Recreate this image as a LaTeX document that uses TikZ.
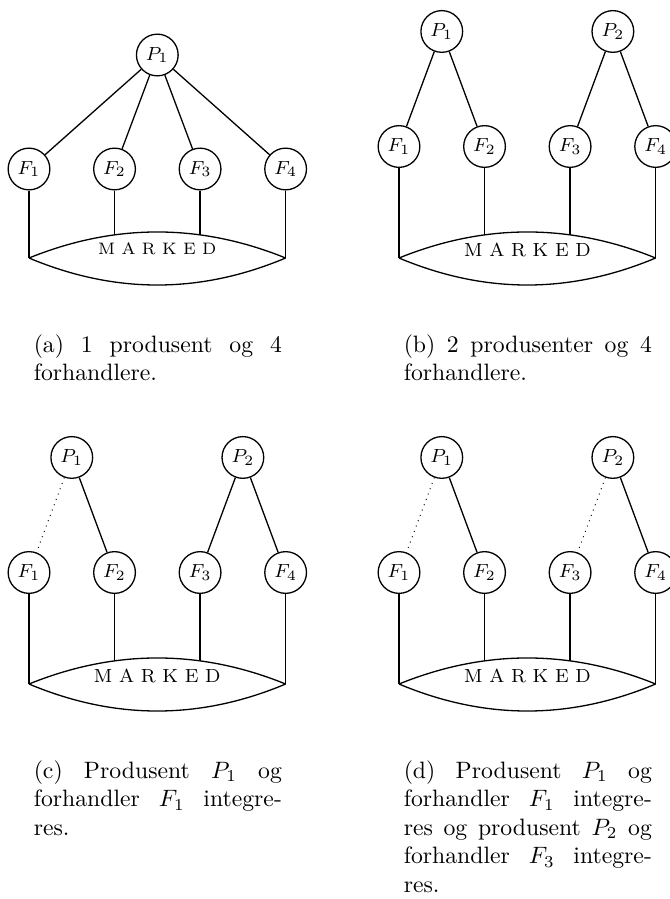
\documentclass[tikz,border=0pt]{standalone}
\usepackage{tikz}
\usetikzlibrary{positioning}
\newdimen\firmDist
\newdimen\prodDist

\begin{document}
\begin{tikzpicture}[x=0.422pt,y=-0.422pt]
\firmDist=36.1pt
\prodDist=51.8pt

\tikzstyle{agent} = [circle, draw=black, line width=0.55pt, minimum size=17.6pt, inner sep=0pt, font=\footnotesize]
\tikzstyle{link} = [line width=0.55pt]
\tikzstyle{weak} = [dotted, line width=0.4pt]
\tikzstyle{market} = [inner sep=0pt, font=\footnotesize]
\tikzstyle{capt} = [anchor=north west, inner sep=0pt, text width=104.7pt, align=justify, font=\normalsize]

\useasboundingbox (0,0) rectangle (670,899);

% (a) 1 produsent
    \node [agent] (Pa1) at (157.3,55) {$P_1$};
    \node [agent] (Fa1) at (29,169) {$F_1$};
    \path (Fa1) ++(\firmDist,0) node [agent] (Fa2) {$F_2$};
    \path (Fa2) ++(\firmDist,0) node [agent] (Fa3) {$F_3$};
    \path (Fa3) ++(\firmDist,0) node [agent] (Fa4) {$F_4$};
    \coordinate (La) at (Fa1 |- 0,258);
    \coordinate (Ra) at (Fa4 |- 0,258);
    \draw [link] (La) .. controls +(85.7,-34.7) and +(-85.7,-34.7) .. (Ra) coordinate [pos=1/3] (Ta2) coordinate [pos=2/3] (Ta3);
    \draw [link] (La) .. controls +(85.7,36) and +(-85.7,36) .. (Ra);
    \node [market, font=\scriptsize] (Ka) at (157.3,249) {M A R K E D};

    \draw [link] (Pa1) -- (Fa1);
    \draw [link] (Pa1) -- (Fa2);
    \draw [link] (Pa1) -- (Fa3);
    \draw [link] (Pa1) -- (Fa4);
    \draw [link] (Fa1) -- (La);
    \draw [link] (Fa2) -- (Fa2 |- Ta2);
    \draw [link] (Fa3) -- (Fa3 |- Ta3);
    \draw [link] (Fa4) -- (Ra);

    \node [capt] (Ca) at (33.3,334) {(a) 1 produsent og 4\linebreak forhandlere.};

% (b) 2 produsenter
    \node [agent] (Fb1) at (399,146.5) {$F_1$};
    \path (Fb1) ++(\firmDist,0) node [agent] (Fb2) {$F_2$};
    \path (Fb2) ++(\firmDist,0) node [agent] (Fb3) {$F_3$};
    \path (Fb3) ++(\firmDist,0) node [agent] (Fb4) {$F_4$};
    \path (Fb1) ++(69.6:\prodDist) node [agent] (Pb1) {$P_1$};
    \path (Fb3) ++(69.6:\prodDist) node [agent] (Pb2) {$P_2$};
    \coordinate (Lb) at (Fb1 |- 0,258);
    \coordinate (Rb) at (Fb4 |- 0,258);
    \draw [link] (Lb) .. controls +(85.7,-34.7) and +(-85.7,-34.7) .. (Rb) coordinate [pos=1/3] (Tb2) coordinate [pos=2/3] (Tb3);
    \draw [link] (Lb) .. controls +(85.7,36) and +(-85.7,36) .. (Rb);
    \node [market] (Kb) at (527.5,249.5) {M A R K E D};

    \draw [link] (Pb1) -- (Fb1);
    \draw [link] (Pb1) -- (Fb2);
    \draw [link] (Pb2) -- (Fb3);
    \draw [link] (Pb2) -- (Fb4);
    \draw [link] (Fb1) -- (Lb);
    \draw [link] (Fb2) -- (Fb2 |- Tb2);
    \draw [link] (Fb3) -- (Fb3 |- Tb3);
    \draw [link] (Fb4) -- (Rb);

    \node [capt] (Cb) at (403.3,334) {(b) 2 produsenter og 4\linebreak forhandlere.};

% (c) P1 og F1 integreres
    \node [agent] (Fc1) at (29,572.5) {$F_1$};
    \path (Fc1) ++(\firmDist,0) node [agent] (Fc2) {$F_2$};
    \path (Fc2) ++(\firmDist,0) node [agent] (Fc3) {$F_3$};
    \path (Fc3) ++(\firmDist,0) node [agent] (Fc4) {$F_4$};
    \path (Fc1) ++(69.6:\prodDist) node [agent] (Pc1) {$P_1$};
    \path (Fc3) ++(69.6:\prodDist) node [agent] (Pc2) {$P_2$};
    \coordinate (Lc) at (Fc1 |- 0,684);
    \coordinate (Rc) at (Fc4 |- 0,684);
    \draw [link] (Lc) .. controls +(85.7,-34.7) and +(-85.7,-34.7) .. (Rc) coordinate [pos=1/3] (Tc2) coordinate [pos=2/3] (Tc3);
    \draw [link] (Lc) .. controls +(85.7,36) and +(-85.7,36) .. (Rc);
    \node [market] (Kc) at (157.3,675.5) {M A R K E D};

    \draw [weak] (Pc1) -- (Fc1);
    \draw [link] (Pc1) -- (Fc2);
    \draw [link] (Pc2) -- (Fc3);
    \draw [link] (Pc2) -- (Fc4);
    \draw [link] (Fc1) -- (Lc);
    \draw [link] (Fc2) -- (Fc2 |- Tc2);
    \draw [link] (Fc3) -- (Fc3 |- Tc3);
    \draw [link] (Fc4) -- (Rc);

    \node [capt] (Cc) at (33.3,760) {(c) Produsent $P_1$ og\linebreak forhandler $F_1$ integre-\linebreak res.};

% (d) begge par integreres
    \node [agent] (Fd1) at (399,572.5) {$F_1$};
    \path (Fd1) ++(\firmDist,0) node [agent] (Fd2) {$F_2$};
    \path (Fd2) ++(\firmDist,0) node [agent] (Fd3) {$F_3$};
    \path (Fd3) ++(\firmDist,0) node [agent] (Fd4) {$F_4$};
    \path (Fd1) ++(69.6:\prodDist) node [agent] (Pd1) {$P_1$};
    \path (Fd3) ++(69.6:\prodDist) node [agent] (Pd2) {$P_2$};
    \coordinate (Ld) at (Fd1 |- 0,684);
    \coordinate (Rd) at (Fd4 |- 0,684);
    \draw [link] (Ld) .. controls +(85.7,-34.7) and +(-85.7,-34.7) .. (Rd) coordinate [pos=1/3] (Td2) coordinate [pos=2/3] (Td3);
    \draw [link] (Ld) .. controls +(85.7,36) and +(-85.7,36) .. (Rd);
    \node [market] (Kd) at (527.5,675.5) {M A R K E D};

    \draw [weak] (Pd1) -- (Fd1);
    \draw [link] (Pd1) -- (Fd2);
    \draw [weak] (Pd2) -- (Fd3);
    \draw [link] (Pd2) -- (Fd4);
    \draw [link] (Fd1) -- (Ld);
    \draw [link] (Fd2) -- (Fd2 |- Td2);
    \draw [link] (Fd3) -- (Fd3 |- Td3);
    \draw [link] (Fd4) -- (Rd);

    \node [capt] (Cd) at (403.3,760) {(d) Produsent $P_1$ og\linebreak forhandler $F_1$ integre-\linebreak res og produsent $P_2$ og\linebreak forhandler $F_3$ integre-\linebreak res.};

\end{tikzpicture}
\end{document}
